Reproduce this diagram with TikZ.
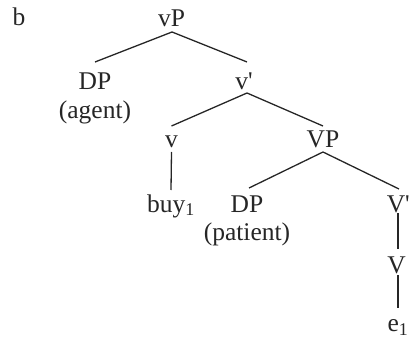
\documentclass[tikz,border=0pt]{standalone}
\usepackage{fontspec}
\setmainfont{Liberation Serif}
\begin{document}
\begin{tikzpicture}[x=1pt,y=1pt,
  lab/.style={inner sep=0pt, anchor=base, font=\fontsize{25.5}{30}\selectfont, text=black!85},
  edge/.style={line width=1.3pt, draw=black!85}]
\useasboundingbox (0,0) rectangle (410,338);
% nodes (x, 338 - baseline)
\node[lab] (b) at (19,312) {b};
\node[lab] (vP) at (171.5,311) {vP};
\node[lab] (DPa) at (95,248) {DP};
\node[lab] (agent) at (95,219) {(agent)};
\node[lab] (vbar) at (244,248) {v\textquotesingle};
\node[lab] (v) at (171.5,190) {v};
\node[lab] (VP) at (323,190) {VP};
\node[lab] (buy) at (171,126) {buy\textsubscript{1}};
\node[lab] (DPp) at (247,126) {DP};
\node[lab] (patient) at (247,98) {(patient)};
\node[lab] (Vbar) at (396,126) {V\rlap{\textquotesingle}};
\node[lab] (V) at (396.5,65) {V};
\node[lab] (e) at (398,6.5) {e\textsubscript{1}};
% connectors
\draw[edge] ([shift={(0.5,-5)}]vP.base) -- ([yshift=28]DPa.base);
\draw[edge] ([shift={(0.5,-5)}]vP.base) -- ([shift={(3,28)}]vbar.base);
\draw[edge] ([shift={(3,-3)}]vbar.base) -- ([yshift=22]v.base);
\draw[edge] ([shift={(3,-3)}]vbar.base) -- ([yshift=22]VP.base);
\draw[edge] ([yshift=-4]v.base) -- ([yshift=22]buy.base);
\draw[edge] ([yshift=-4]VP.base) -- ([shift={(2,24)}]DPp.base);
\draw[edge] ([yshift=-4]VP.base) -- ([shift={(3,23)}]Vbar.base);
\draw[edge] ([shift={(2,-1)}]Vbar.base) -- ([shift={(1.5,24)}]V.base);
\draw[edge] ([shift={(1.5,-2)}]V.base) -- ([shift={(0,24)}]e.base);
\end{tikzpicture}
\end{document}
